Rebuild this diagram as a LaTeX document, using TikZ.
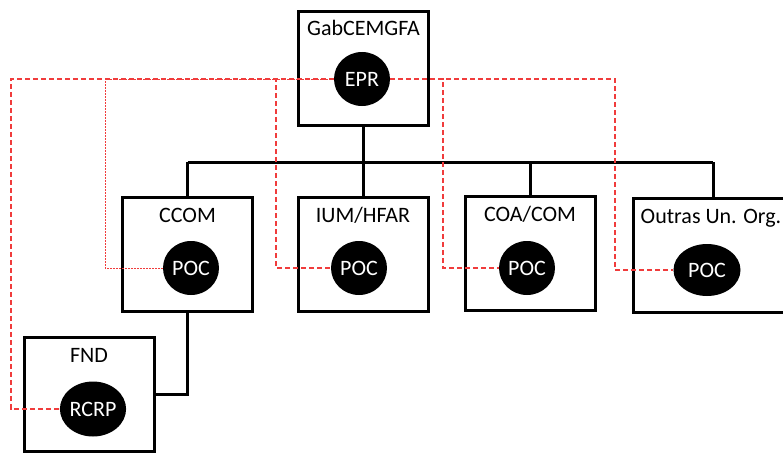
\documentclass[tikz,border=0pt]{standalone}
\usepackage{fontspec}
\setmainfont{Carlito}
\usepackage{tikz}
\usetikzlibrary{positioning,shapes.geometric,calc}
\definecolor{vermelho}{RGB}{240,60,60}

\begin{document}
\begin{tikzpicture}[x=1pt,y=-1pt,
    caixa/.style={draw,line width=3pt,minimum width=130pt,minimum height=114pt,inner sep=0pt},
    titulo/.style={anchor=base,font=\fontsize{22}{26}\selectfont},
    ponto/.style={ellipse,fill=black,text=white,inner sep=0pt,minimum width=56pt,minimum height=54pt,font=\fontsize{22}{26}\selectfont},
    ramo/.style={line width=3pt},
    ligacao/.style={draw=vermelho,line width=1.1pt,dash pattern=on 5pt off 3pt},
    ligpont/.style={draw=vermelho,line width=0.9pt,dash pattern=on 1.5pt off 1.5pt}]
  \useasboundingbox (0,0) rectangle (783,452);
  \clip (0,0) rectangle (783,452);

  \node[caixa] (gab) at (363.5,68.5) {};
  \node[titulo] (gabT) at (363.5,36) {GabCEMGFA};
  \node[caixa] (ccom) at (187.5,254.5) {};
  \node[titulo] (ccomT) at (187.5,222) {CCOM};
  \node[caixa] (ium) at (363,254.5) {};
  \node[titulo] (iumT) at (363,222) {IUM/HFAR};
  \node[caixa] (coa) at (530,253.5) {};
  \node[titulo] (coaT) at (530,221) {COA/COM};
  \node[caixa,minimum width=159pt] (outras) at (713,255.5) {};
  \node[titulo] (outrasT) at (711,223) {Outras Un. Org.};
  \node[caixa] (fnd) at (89,394.5) {};
  \node[titulo] (fndT) at (89,362) {FND};

  \coordinate (barra) at (363,162);
  \draw[ramo] (gab.south) -- (gab.south |- barra);
  \draw[ramo] (ccom.north |- barra) -- (outras.north |- barra);
  \foreach \n in {ccom,ium,coa,outras}
    \draw[ramo] (\n.north) -- (\n.north |- barra);
  \draw[ramo] (ccom.south) |- (fnd.east);

  \node[ponto] (epr) at (362,79) {EPR};
  \node[ponto] (ccomP) at (191,268) {POC};
  \node[ponto] (iumP) at (359,268) {POC};
  \node[ponto] (coaP) at (527,268) {POC};
  \node[ponto,minimum width=67pt,minimum height=52pt] (outrasP) at (707,270) {POC};
  \node[ponto,minimum width=57pt,minimum height=55pt] (rcrp) at (93,409) {RCRP};

  \coordinate (vFnd) at (11,79);
  \coordinate (vCcom) at (105,79);
  \coordinate (vIum) at (276,79);
  \coordinate (vCoa) at (443,79);
  \coordinate (vOutras) at (615,79);
  \draw[ligacao] (epr.west) -- (vFnd) |- (rcrp.west);
  \draw[ligpont] (epr.west) -- (vCcom) |- (ccomP.west);
  \draw[ligacao] (epr.west) -- (vIum) |- (iumP.west);
  \draw[ligacao] (epr.east) -- (vCoa) |- (coaP.west);
  \draw[ligacao] (epr.east) -- (vOutras) |- (outrasP.west);
\end{tikzpicture}
\end{document}
